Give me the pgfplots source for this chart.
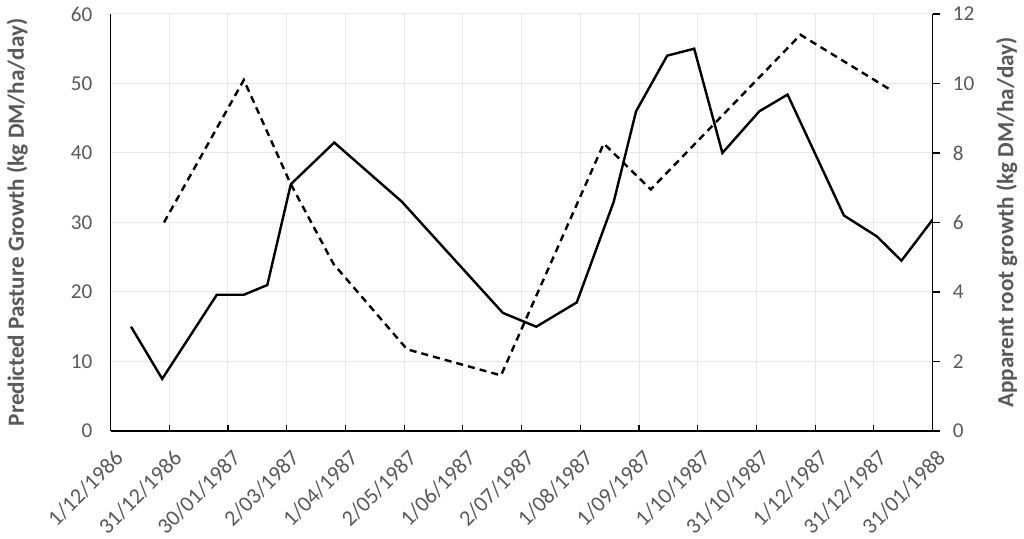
\documentclass[border=0pt]{standalone}
\usepackage{pgfplots}
\pgfplotsset{compat=1.18}
\usepackage{fontspec}
\setmainfont{Carlito}
\definecolor{txtgray}{HTML}{595959}
\definecolor{gridgray}{HTML}{E8E8E8}

\begin{document}
\begin{tikzpicture}
  % left axis: pasture growth (solid)
  \begin{axis}[
      scale only axis,
      width=408pt, height=207pt,
      xmin=0, xmax=14,
      ymin=0, ymax=60,
      axis x line*=bottom,
      axis y line*=left,
      axis line style={-, black, line width=0.8pt},
      xtick={0,...,14},
      xticklabels={1/12/1986,31/12/1986,30/01/1987,2/03/1987,1/04/1987,2/05/1987,1/06/1987,2/07/1987,1/08/1987,1/09/1987,1/10/1987,31/10/1987,1/12/1987,31/12/1987,31/01/1988},
      x tick label style={xshift=1.5pt, yshift=-7pt, rotate=45, anchor=north east, font=\fontsize{11}{13}\selectfont, text=txtgray, inner sep=1pt},
      ytick={0,10,...,60},
      y tick label style={font=\fontsize{10.5}{12}\selectfont, text=txtgray, xshift=-5.5pt},
      /pgf/number format/assume math mode=true,
      xmajorgrids=true, ymajorgrids=true,
      grid style={gridgray, line width=0.5pt},
      tick align=inside,
      xtick style={black, line width=0.6pt},
      ytick style={draw=none},
      major tick length=3pt,
      ylabel={\textbf{Predicted Pasture Growth (kg DM/ha/day)}},
      ylabel style={font=\fontsize{11.5}{13}\selectfont, text=txtgray},
      ylabel shift=14.5pt,
    ]
    \addplot[black, line width=1.2pt] coordinates {
      (0.35, 15)
      (0.88, 7.5)
      (1.81, 19.6)
      (2.27, 19.6)
      (2.67, 21)
      (3.07, 35.5)
      (3.81, 41.5)
      (4.96, 33)
      (6.68, 17)
      (7.25, 15)
      (7.94, 18.5)
      (8.57, 33)
      (8.95, 46)
      (9.48, 54)
      (9.94, 55)
      (10.42, 40)
      (11.05, 46)
      (11.53, 48.4)
      (12.49, 31)
      (13.05, 28)
      (13.47, 24.5)
      (14.0, 30.4)
    };
  \end{axis}
  % right axis: apparent root growth (dashed)
  \begin{axis}[
      scale only axis,
      width=408pt, height=207pt,
      xmin=0, xmax=14,
      ymin=0, ymax=12,
      axis x line=none,
      axis y line*=right,
      axis line style={-, black, line width=0.8pt},
      ytick={0,2,...,12},
      y tick label style={font=\fontsize{10.5}{12}\selectfont, text=txtgray, xshift=3pt},
      /pgf/number format/assume math mode=true,
      tick align=outside,
      ytick style={black, line width=0.6pt},
      major tick length=3.5pt,
      ylabel={\textbf{Apparent root growth (kg DM/ha/day)}},
      ylabel style={font=\fontsize{11.5}{13}\selectfont, text=txtgray},
      ylabel shift=4pt,
    ]
    \addplot[black, line width=1.2pt, dash pattern=on 3.5pt off 2.5pt] coordinates {
      (0.91, 6.0)
      (2.27, 10.1)
      (3.07, 7.1)
      (3.80, 4.8)
      (5.05, 2.35)
      (6.65, 1.6)
      (8.40, 8.27)
      (9.20, 6.95)
      (11.75, 11.4)
      (13.25, 9.85)
    };
  \end{axis}
\end{tikzpicture}
\end{document}
